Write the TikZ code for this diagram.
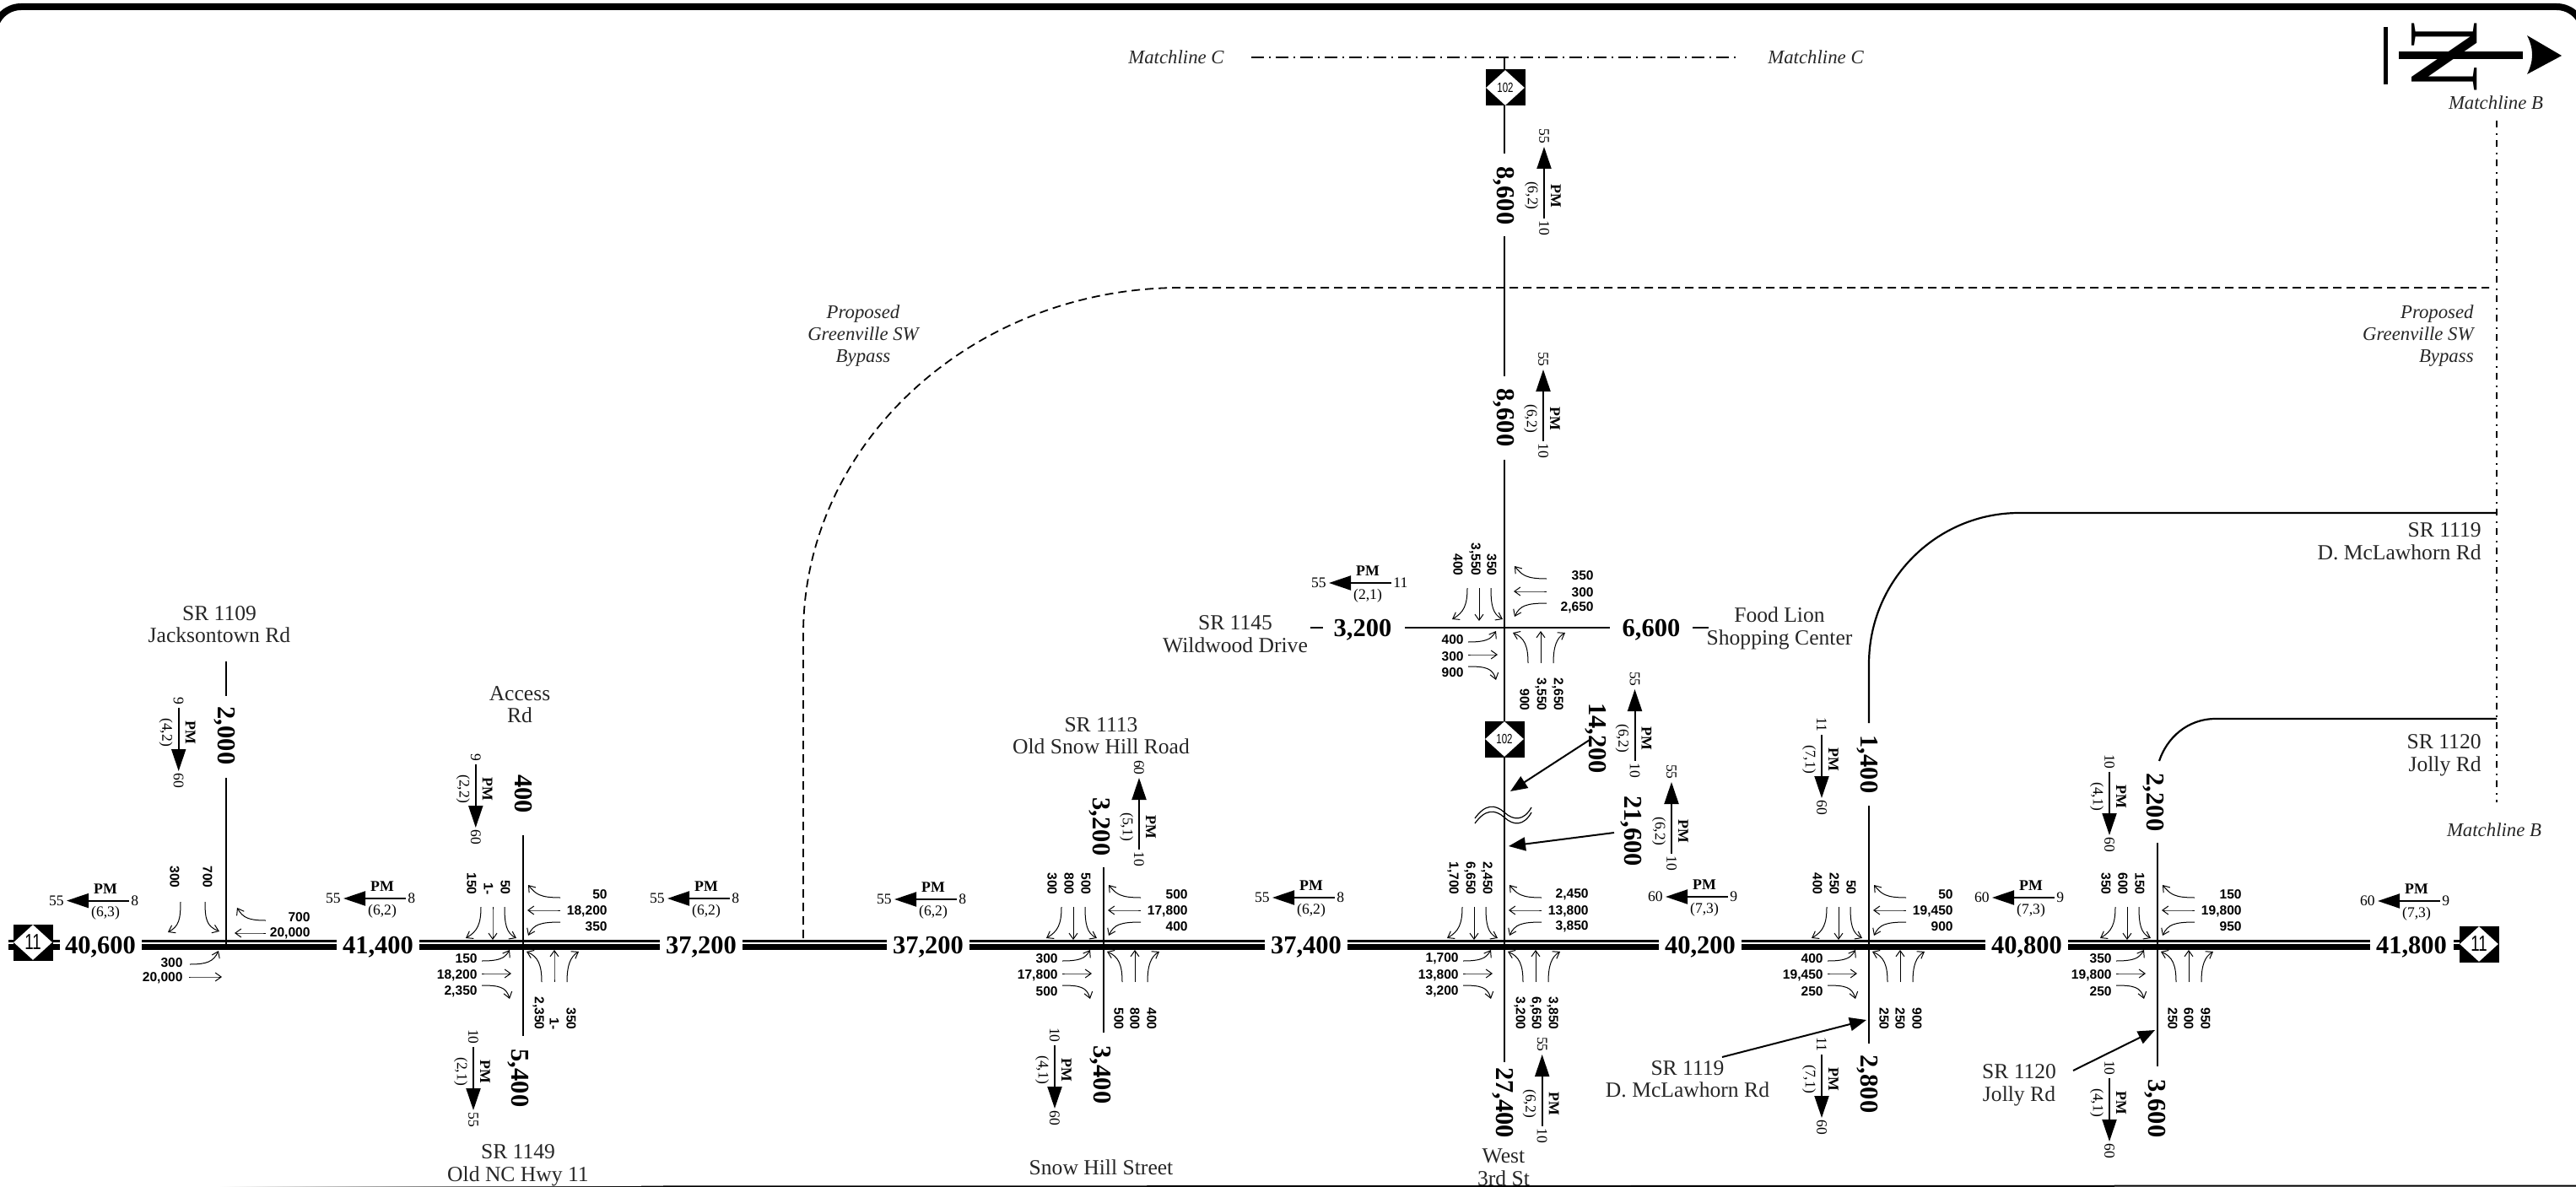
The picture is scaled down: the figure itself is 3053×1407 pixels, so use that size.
\documentclass[tikz,border=0pt]{standalone}
\usepackage{fontspec}
\setmainfont{Liberation Serif}
\newfontfamily\countfont{Liberation Sans}
\usepackage{tikz}
\usetikzlibrary{
    arrows.meta,
    shapes.geometric
}
\tikzset{
    volume/.style={
        font=\fontsize{15.25}{16}\selectfont\bfseries,
        text height=10pt,
        text depth=0pt,
        inner xsep=3.5pt,
        inner ysep=0pt
    }
}
\tikzset{
    volumev/.style={
        volume,
        rotate=-90
    }
}
\tikzset{
    roadname/.style={
        font=\fontsize{12.8}{13.3}\selectfont,
        align=center,
        inner sep=0pt,
        text=black!85
    }
}
\tikzset{
    linename/.style={
        font=\fontsize{11.4}{13}\selectfont\itshape,
        align=center,
        inner sep=0pt,
        text=black!85
    }
}
\tikzset{
    turncount/.style={
        font=\fontsize{7.8}{8}\selectfont\countfont\bfseries,
        inner sep=0pt
    }
}
\tikzset{
    pmword/.style={
        font=\fontsize{8.9}{9}\selectfont\bfseries,
        inner sep=0pt
    }
}
\tikzset{
    pmtext/.style={
        font=\fontsize{8.8}{9}\selectfont,
        inner sep=0pt
    }
}
\tikzset{
    pmline/.style={
        line width=1pt
    }
}
\tikzset{
    turnline/.style={
        line width=0.5pt,
        -{Straight Barb[length=3.5pt,width=5pt]}
    }
}
\tikzset{
    leader/.style={
        line width=1pt,
        -{Triangle[length=10pt,width=8pt]}
    }
}
\tikzset{
    minorroad/.style={
        line width=1.1pt
    }
}
\tikzset{
    bypass/.style={
        line width=0.9pt,
        dash pattern=on 5pt off 3pt
    }
}
\tikzset{
    shieldbox/.style={
        fill=black,
        minimum width=23.5pt,
        minimum height=21.5pt,
        inner sep=0pt
    }
}
\tikzset{
    shieldmark/.style={
        diamond,
        fill=white,
        minimum width=23pt,
        minimum height=21pt,
        inner sep=0pt,
        font=\fontsize{#1}{#1}\selectfont\countfont
    }
}

% one PM tag: name, position, rotation, left end, right end, left text, right text, pair, tip
\newcommand{\pmarrow}[9]{
    \begin{scope}[shift={(#2)},rotate=#3]
        \coordinate (#1a) at (#4,0);
        \coordinate (#1b) at (#5,0);
        \draw[pmline,#9] (#1a) -- (#1b);
        \node[pmword,rotate=#3] (#1w) at (0,-14) {PM};
        \node[pmtext,rotate=#3] (#1p) at (0,15) {#8};
        \node[pmtext,rotate=#3,anchor=east] (#1l) at (#4-3,0) {#6};
        \node[pmtext,rotate=#3,anchor=west] (#1r) at (#5+2,0) {#7};
    \end{scope}
}
\tikzset{
    tipa/.style={{Triangle[length=13pt,width=8.5pt]}-},
    tipb/.style={-{Triangle[length=13pt,width=8.5pt]}}
}
\newcommand{\pmleft}[5]{\pmarrow{#1}{#2}{0}{-46}{28}{#4}{#3}{#5}{tipa}}
\newcommand{\pmup}[5]{\pmarrow{#1}{#2}{-90}{-58}{27}{#4}{#3}{#5}{tipa}}
\newcommand{\pmdown}[5]{\pmarrow{#1}{#2}{-90}{-29}{46}{#3}{#4}{#5}{tipb}}

% one small turning arrow: name, start, control, control, end
\newcommand{\turnarrow}[5]{
    \coordinate (#1s) at (#2);
    \coordinate (#1t) at (#5);
    \draw[turnline] (#1s) .. controls (#3) and (#4) .. (#1t);
}

\newcommand{\eastturns}[5]{
    \begin{scope}[shift={(#2)}]
        \node[turncount,anchor=east] (#1e1) at (100,-60) {#3};
        \node[turncount,anchor=east] (#1e2) at (100,-40) {#4};
        \node[turncount,anchor=east] (#1e3) at (100,-22) {#5};
        \turnarrow{#1ea}{44,-56}{20,-56}{15,-60}{6,-71}
        \turnarrow{#1eb}{44,-41}{30,-41}{20,-41}{5,-41}
        \turnarrow{#1ec}{44,-27}{20,-27}{12,-24}{6,-11}
    \end{scope}
}
\newcommand{\westturns}[5]{
    \begin{scope}[shift={(#2)}]
        \node[turncount,anchor=east] (#1w1) at (-54,16) {#3};
        \node[turncount,anchor=east] (#1w2) at (-54,36) {#4};
        \node[turncount,anchor=east] (#1w3) at (-54,55) {#5};
        \turnarrow{#1wa}{-49,19}{-28,19}{-22,16}{-16,6}
        \turnarrow{#1wb}{-49,34}{-35,34}{-25,34}{-14,34}
        \turnarrow{#1wc}{-49,48}{-28,48}{-20,50}{-16,64}
    \end{scope}
}
\newcommand{\northturns}[5]{
    \begin{scope}[shift={(#2)}]
        \node[turncount,rotate=-90,anchor=east] (#1n1) at (-21,-59) {#3};
        \node[turncount,rotate=-90,anchor=east] (#1n2) at (-41,-59) {#4};
        \node[turncount,rotate=-90,anchor=east] (#1n3) at (-61,-59) {#5};
        \turnarrow{#1na}{-22,-45}{-22,-25}{-20,-14}{-8,-8}
        \turnarrow{#1nb}{-36,-45}{-36,-30}{-36,-20}{-36,-6}
        \turnarrow{#1nc}{-50,-45}{-50,-25}{-54,-16}{-68,-8}
    \end{scope}
}
\newcommand{\southturns}[5]{
    \begin{scope}[shift={(#2)}]
        \node[turncount,rotate=-90,anchor=east] (#1s1) at (18,101) {#3};
        \node[turncount,rotate=-90,anchor=east] (#1s2) at (37,101) {#4};
        \node[turncount,rotate=-90,anchor=east] (#1s3) at (57,101) {#5};
        \turnarrow{#1sa}{22,44}{22,24}{18,14}{4,8}
        \turnarrow{#1sb}{37,44}{37,30}{37,20}{37,6}
        \turnarrow{#1sc}{52,44}{52,24}{56,14}{66,8}
    \end{scope}
}

\begin{document}
\begin{tikzpicture}[
    x=0.5pt,
    y=-0.5pt,
    >=Latex
]
\useasboundingbox (0,0) rectangle (3053,1407);

% ------------------------------------------------------------
% Frame and north arrow
% ------------------------------------------------------------

\coordinate (framea) at (-7,100);
\coordinate (frameb) at (-7,8);
\coordinate (framec) at (3062,8);
\coordinate (framed) at (3062,100);
\draw[line width=4pt, rounded corners=16pt] (framea) -- (frameb) -- (framec) -- (framed);
\coordinate (basea) at (760,1406.5);
\coordinate (baseb) at (3053,1405.5);
\draw[line width=1pt] (basea) -- (baseb);
\shade[left color=white, right color=black] (260,1406) rectangle (760,1407);

\coordinate (northa) at (2827,32);
\coordinate (northb) at (2827,100);
\draw[line width=2.5pt] (northa) -- (northb);
\coordinate (northc) at (2843,66);
\coordinate (northd) at (2990,66);
\draw[line width=4.5pt] (northc) -- (northd);
\fill (2995,42) -- (3036,66) -- (2995,88) .. controls (3003,72) and (3003,58) .. cycle;
\node[font=\fontsize{59}{59}\selectfont, rotate=-90, inner sep=0pt] (northmark) at (2897,67) {N};

% ------------------------------------------------------------
% Matchlines and the proposed bypass
% ------------------------------------------------------------

\coordinate (matchca) at (1483,68);
\coordinate (matchcb) at (2063,68);
\draw[line width=0.8pt, dash pattern=on 7.5pt off 3pt on 1pt off 3pt] (matchca) -- (matchcb);
\coordinate (matchba) at (2959,143);
\coordinate (matchbb) at (2959,951);
\draw[line width=0.9pt, dash pattern=on 4pt off 3.5pt on 1pt off 3pt] (matchba) -- (matchbb);
\node[linename] (mclefttext) at (1394,68) {Matchline C};
\node[linename] (mcrighttext) at (2152,68) {Matchline C};
\node[linename] (mbtoptext) at (2958,122) {Matchline B};
\node[linename] (mblowtext) at (2956,984) {Matchline B};

\coordinate (bypassa) at (952,1112);
\coordinate (bypassb) at (952,752);
\coordinate (bypassc) at (1400,341);
\coordinate (bypassd) at (2950,341);
\draw[bypass] (bypassa) -- (bypassb) .. controls (952,525) and (1153,341) .. (bypassc) -- (bypassd);
\node[linename] (bypasstextl) at (1023,398) {Proposed\\Greenville SW\\Bypass};
\node[linename, align=right, anchor=east] (bypasstextr) at (2932,398) {Proposed\\Greenville SW\\Bypass};

% ------------------------------------------------------------
% Main road, with its counts
% ------------------------------------------------------------

\node[volume] (v40600) at (119,1120) {40,600};
\node[volume] (v41400) at (448,1120) {41,400};
\node[volume] (v37200a) at (831,1120) {37,200};
\node[volume] (v37200b) at (1100,1120) {37,200};
\node[volume] (v37400) at (1548,1120) {37,400};
\node[volume] (v40200) at (2015,1120) {40,200};
\node[volume] (v40800) at (2402,1120) {40,800};
\node[volume] (v41800) at (2858,1120) {41,800};

\foreach \a/\b in {v40600/v41400,v41400/v37200a,v37200a/v37200b,v37200b/v37400,v37400/v40200,v40200/v40800,v40800/v41800} {
    \draw[line width=1.5pt] ([yshift=2.25pt]\a.east) -- ([yshift=2.25pt]\b.west);
    \draw[line width=3.5pt] ([yshift=-1.25pt]\a.east) -- ([yshift=-1.25pt]\b.west);
}
\foreach \n/\p/\q in {stubw/10/71,stube/2908/2925} {
    \coordinate (\n a) at (\p,1120);
    \coordinate (\n b) at (\q,1120);
    \draw[line width=1.5pt] ([yshift=2.25pt]\n a) -- ([yshift=2.25pt]\n b);
    \draw[line width=3.5pt] ([yshift=-1.25pt]\n a) -- ([yshift=-1.25pt]\n b);
}

% ------------------------------------------------------------
% Side roads
% ------------------------------------------------------------

\foreach \n/\x/\ya/\yb in {jackt/268/784/825,jackb/268/922/1120,acc/620/990/1228,snow/1308/1028/1224,
    thirda/1783/68/182,thirdb/1783/280/446,thirdc/1783/545/1259,mclaw/2215/955/1237,jolly/2557/999/1264} {
    \coordinate (\n a) at (\x,\ya);
    \coordinate (\n b) at (\x,\yb);
    \draw[minorroad] (\n a) -- (\n b);
}
\foreach \n/\xa/\xb in {wilda/1553/1568,wildb/1665/1908,wildc/2006/2025} {
    \coordinate (\n a) at (\xa,744);
    \coordinate (\n b) at (\xb,744);
    \draw[minorroad] (\n a) -- (\n b);
}

\coordinate (mclawc) at (2215,857);
\coordinate (mclawd) at (2215,787);
\coordinate (mclawe) at (2393,608);
\coordinate (mclawf) at (2959,608);
\draw[minorroad] (mclawc) -- (mclawd) .. controls (2215,688) and (2295,608) .. (mclawe) -- (mclawf);

\coordinate (jollyc) at (2559,902);
\coordinate (jollyd) at (2626,852);
\coordinate (jollye) at (2959,852);
\draw[minorroad] (jollyc) .. controls (2568,875) and (2592,852) .. (jollyd) -- (jollye);

% break in the road
\draw[line width=0.6pt] (1748,970) .. controls (1760,953) and (1772,953) .. (1783,963) .. controls (1794,973) and (1806,973) .. (1815,957);
\draw[line width=0.6pt] (1748,976) .. controls (1760,959) and (1772,959) .. (1783,969) .. controls (1794,979) and (1806,979) .. (1815,963);

\node[volumev] (v2000) at (268,872) {2,000};
\node[volumev] (v400) at (620,941) {400};
\node[volumev] (v5400) at (616,1278) {5,400};
\node[volumev] (v3200n) at (1305,980) {3,200};
\node[volumev] (v3400) at (1306,1274) {3,400};
\node[volumev] (v8600a) at (1784,232) {8,600};
\node[volumev] (v8600b) at (1784,495) {8,600};
\node[volumev] (v14200) at (1893,875) {14,200};
\node[volumev] (v21600) at (1935,985) {21,600};
\node[volumev] (v27400) at (1783,1307) {27,400};
\node[volumev] (v1400) at (2215,906) {1,400};
\node[volumev] (v2800) at (2215,1285) {2,800};
\node[volumev] (v2200) at (2554,951) {2,200};
\node[volumev] (v3600) at (2556,1314) {3,600};
\node[volume] (v3200w) at (1615,744) {3,200};
\node[volume] (v6600) at (1957,744) {6,600};

% ------------------------------------------------------------
% Route shields
% ------------------------------------------------------------

\foreach \n/\x/\y/\s/\t in {shieldw/39/1117/13/11,shielde/2938/1119/13/11,shieldn/1784/104/8/102,shieldm/1783/876/8/102} {
    \node[shieldbox] (\n) at (\x,\y) {};
    \node[shieldmark=\s] (\n t) at (\x,\y) {\scalebox{.72}[1]{\t}};
}

% ------------------------------------------------------------
% Road names
% ------------------------------------------------------------

\node[roadname] (jackname) at (260,740) {SR 1109\\Jacksontown Rd};
\node[roadname] (accname) at (616,835) {Access\\Rd};
\node[roadname] (oldname) at (614,1381) {SR 1149\\Old NC Hwy 11};
\node[roadname] (oldsnowname) at (1305,872) {SR 1113\\Old Snow Hill Road};
\node[roadname] (snowname) at (1305,1384) {Snow Hill Street};
\node[roadname] (wildname) at (1464,752) {SR 1145\\Wildwood Drive};
\node[roadname] (foodname) at (2109,745) {Food Lion\\Shopping Center};
\node[roadname] (thirdname) at (1782,1384) {West\\3rd St};
\node[roadname] (mclawname) at (2000,1279) {SR 1119\\D. McLawhorn Rd};
\node[roadname] (jollyname) at (2393,1286) {SR 1120\\Jolly Rd};
\node[roadname, align=right, anchor=east] (mclawnamer) at (2941,642) {SR 1119\\D. McLawhorn Rd};
\node[roadname, align=right, anchor=east] (jollynamer) at (2941,895) {SR 1120\\Jolly Rd};

% ------------------------------------------------------------
% Leaders
% ------------------------------------------------------------

\foreach \n/\xa/\ya/\xb/\yb in {lda/1884/877/1790/938,ldb/1913/987/1788/1003,ldc/2041/1253/2212/1209,ldd/2457/1269/2554/1221} {
    \coordinate (\n a) at (\xa,\ya);
    \coordinate (\n b) at (\xb,\yb);
    \draw[leader] (\n a) -- (\n b);
}

% ------------------------------------------------------------
% PM tags
% ------------------------------------------------------------

\pmleft{pma}{125,1067.6}{8}{55}{(6,3)}
\pmleft{pmb}{453,1065}{8}{55}{(6,2)}
\pmleft{pmc}{837,1065}{8}{55}{(6,2)}
\pmleft{pmd}{1106,1066}{8}{55}{(6,2)}
\pmleft{pme}{1554,1064}{8}{55}{(6,2)}
\pmleft{pmf}{2020,1063}{9}{60}{(7,3)}
\pmleft{pmg}{2407,1064}{9}{60}{(7,3)}
\pmleft{pmh}{2864,1068}{9}{60}{(7,3)}
\pmleft{pmi}{1621,691}{11}{55}{(2,1)}

\pmup{pmj}{1830,232}{10}{55}{(6,2)}
\pmup{pmk}{1829,496}{10}{55}{(6,2)}
\pmup{pml}{1937.5,875}{10}{55}{(6,2)}
\pmup{pmm}{1981,985}{10}{55}{(6,2)}
\pmup{pmn}{1350,980}{10}{60}{(5,1)}
\pmup{pmo}{1827.7,1308}{10}{55}{(6,2)}

\pmdown{pmp}{211.7,868}{9}{60}{(4,2)}
\pmdown{pmq}{563.8,935}{9}{60}{(2,2)}
\pmdown{pmr}{561,1270}{10}{55}{(2,1)}
\pmdown{pms}{1250,1268}{10}{60}{(4,1)}
\pmdown{pmt}{2159,900}{11}{60}{(7,1)}
\pmdown{pmu}{2159,1279}{11}{60}{(7,1)}
\pmdown{pmv}{2500,944}{10}{60}{(4,1)}
\pmdown{pmw}{2500,1307}{10}{60}{(4,1)}

% ------------------------------------------------------------
% Turning counts
% ------------------------------------------------------------

% Jacksontown Rd
\node[turncount, rotate=-90, anchor=east] (jackn1) at (246,1053) {700};
\node[turncount, rotate=-90, anchor=east] (jackn2) at (207,1053) {300};
\turnarrow{jackna}{243,1069}{243,1090}{245,1098}{260,1104}
\turnarrow{jacknb}{214,1069}{214,1090}{212,1098}{199,1105}
\node[turncount, anchor=east] (jacke1) at (368,1087) {700};
\node[turncount, anchor=east] (jacke2) at (368,1106) {20,000};
\turnarrow{jackea}{315,1091}{295,1091}{288,1088}{281,1076}
\turnarrow{jackeb}{315,1106}{300,1106}{290,1106}{278,1106}
\node[turncount, anchor=east] (jackw1) at (217,1141) {300};
\node[turncount, anchor=east] (jackw2) at (217,1159) {20,000};
\turnarrow{jackwa}{225,1143}{245,1143}{253,1140}{259,1127}
\turnarrow{jackwb}{224,1158}{240,1158}{250,1158}{263,1158}

% Access Rd
\northturns{acc}{620,1120}{50}{1-}{150}
\eastturns{acc}{620,1120}{50}{18,200}{350}
\westturns{acc}{620,1120}{150}{18,200}{2,350}
\southturns{acc}{620,1120}{2,350}{1-}{350}

% Snow Hill
\northturns{snw}{1308,1120}{500}{800}{300}
\eastturns{snw}{1308,1120}{500}{17,800}{400}
\westturns{snw}{1308,1120}{300}{17,800}{500}
\southturns{snw}{1308,1120}{500}{800}{400}

% West 3rd St
\northturns{trd}{1783,1120}{2,450}{6,650}{1,700}
\eastturns{trd}{1783,1120}{2,450}{13,800}{3,850}
\westturns{trd}{1783,1120}{1,700}{13,800}{3,200}
\southturns{trd}{1783,1120}{3,200}{6,650}{3,850}

% Wildwood Drive
\northturns{wld}{1789,742}{350}{3,550}{400}
\eastturns{wld}{1789,742}{350}{300}{2,650}
\westturns{wld}{1789,742}{400}{300}{900}
\southturns{wld}{1789,742}{900}{3,550}{2,650}

% D. McLawhorn Rd
\northturns{mcl}{2215,1120}{50}{250}{400}
\eastturns{mcl}{2215,1120}{50}{19,450}{900}
\westturns{mcl}{2215,1120}{400}{19,450}{250}
\southturns{mcl}{2215,1120}{250}{250}{900}

% Jolly Rd
\northturns{jly}{2557,1120}{150}{600}{350}
\eastturns{jly}{2557,1120}{150}{19,800}{950}
\westturns{jly}{2557,1120}{350}{19,800}{250}
\southturns{jly}{2557,1120}{250}{600}{950}

\end{tikzpicture}
\end{document}
